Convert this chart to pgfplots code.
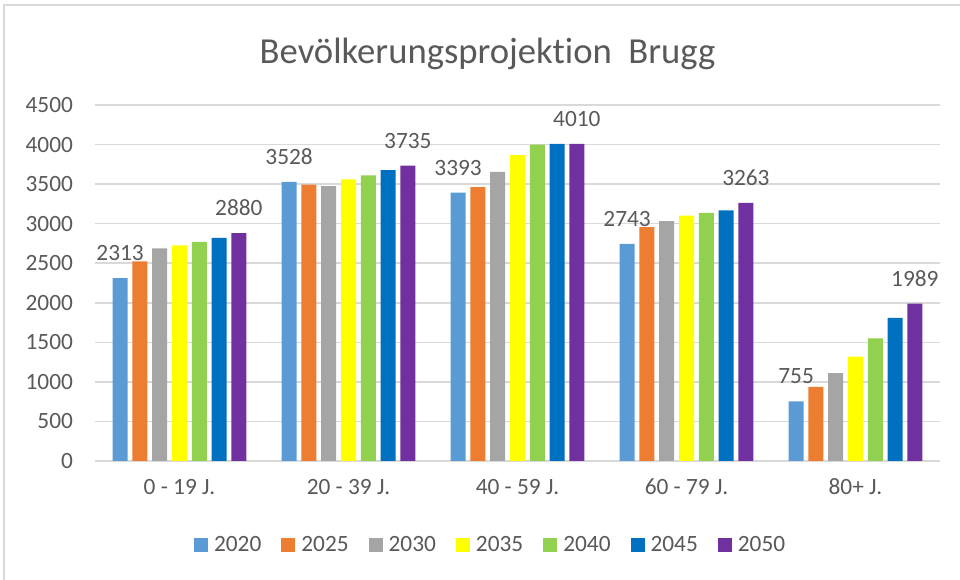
\documentclass[border=0pt]{standalone}
\usepackage{fontspec}
\setmainfont{Carlito}[Ligatures=NoCommon]
\usepackage{pgfplots}
\pgfplotsset{compat=1.18}
\definecolor{c2020}{HTML}{5B9BD5}
\definecolor{c2025}{HTML}{ED7D31}
\definecolor{c2030}{HTML}{A5A5A5}
\definecolor{c2035}{HTML}{FFFF00}
\definecolor{c2040}{HTML}{92D050}
\definecolor{c2045}{HTML}{0070C0}
\definecolor{c2050}{HTML}{7030A0}
\definecolor{ctext}{HTML}{595959}
\definecolor{cgrid}{HTML}{D9D9D9}
\newcommand{\lab}{\fontsize{17.5}{20}\selectfont}
\begin{document}
\begin{tikzpicture}
% picture frame: 960x580 px at 0.75pt per px, axis box at (95,105)-(940,461)
\useasboundingbox (-71.25pt,-89.25pt) rectangle (648.75pt,345.75pt);
\draw[cgrid, line width=1.5pt] (-68.25pt,-100pt) -- (-68.25pt,342pt) -- (660pt,342pt);
\begin{axis}[
  scale only axis, width=633.75pt, height=267pt,
  ybar=3.6pt, bar width=11.25pt,
  xmin=-0.5, xmax=4.5, ymin=0, ymax=4500,
  xtick={0,1,2,3,4},
  xticklabels={0 - 19 J., 20 - 39 J., 40 - 59 J., 60 - 79 J., 80+ J.},
  ytick={0,500,...,4500},
  ymajorgrids, major grid style={draw=cgrid, line width=1.2pt},
  axis line style={draw=none},
  major tick length=0pt,
  tick label style={font=\lab, text=ctext},
  /pgf/number format/assume math mode=true,
  /pgf/number format/1000 sep={},
  yticklabel style={xshift=-13pt},
  xticklabel style={yshift=-10pt},
  every node near coord/.append style={font=\lab, text=ctext, anchor=base, inner sep=0pt, yshift=13pt},
  legend columns=7,
  legend image code/.code={\fill[#1] (0pt,-5.25pt) rectangle (10.5pt,5.25pt);},
  legend style={at={(0.467,-0.237)}, anchor=center, draw=none, font=\lab, text=ctext,
    nodes={inner sep=0pt},
    /tikz/every odd column/.append style={column sep=4.5pt},
    /tikz/every even column/.append style={column sep=15pt}},
]
\addplot[fill=c2020, draw=none, nodes near coords] coordinates {(0,2313) (1,3528) (2,3393) (3,2743) (4,755)};
\addlegendentry{2020}
\addplot[fill=c2025, draw=none] coordinates {(0,2523) (1,3495) (2,3461) (3,2957) (4,936)};
\addlegendentry{2025}
\addplot[fill=c2030, draw=none] coordinates {(0,2688) (1,3474) (2,3656) (3,3033) (4,1110)};
\addlegendentry{2030}
\addplot[fill=c2035, draw=none] coordinates {(0,2726) (1,3559) (2,3866) (3,3101) (4,1320)};
\addlegendentry{2035}
\addplot[fill=c2040, draw=none] coordinates {(0,2769) (1,3609) (2,3998) (3,3135) (4,1550)};
\addlegendentry{2040}
\addplot[fill=c2045, draw=none] coordinates {(0,2820) (1,3677) (2,4008) (3,3169) (4,1810)};
\addlegendentry{2045}
\addplot[fill=c2050, draw=none, nodes near coords] coordinates {(0,2880) (1,3735) (2,4010) (3,3263) (4,1989)};
\addlegendentry{2050}
\end{axis}
\node[font=\fontsize{27.5}{32}\selectfont, text=ctext, anchor=base] at (294.4pt,298pt) {Bevölkerungsprojektion\ \ Brugg};
\end{tikzpicture}
\end{document}
